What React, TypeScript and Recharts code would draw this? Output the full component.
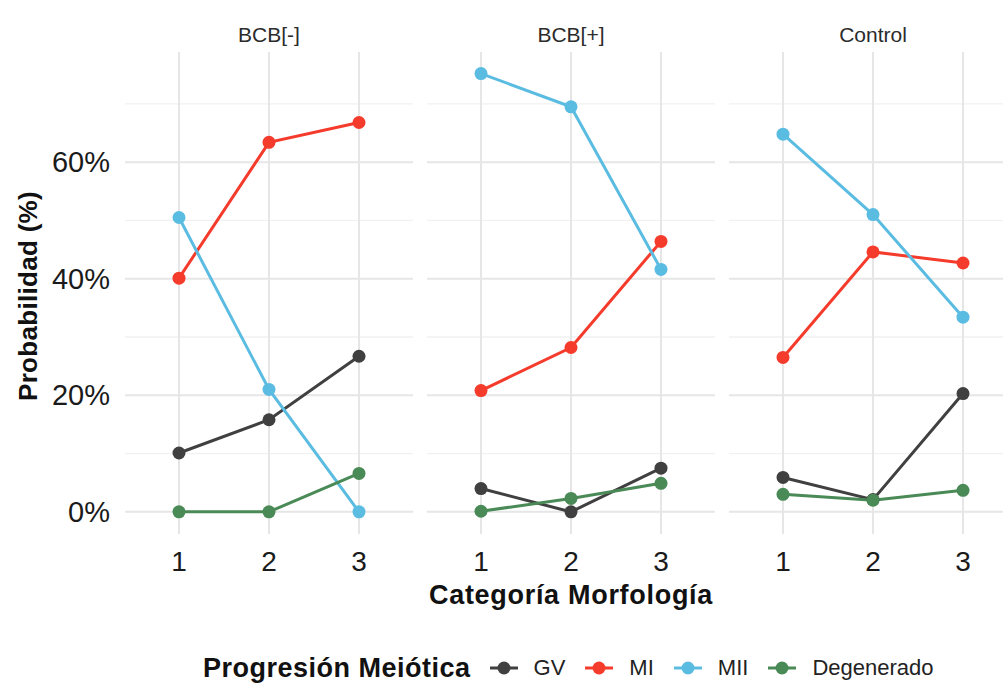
import { LineChart, Line, XAxis, YAxis, ReferenceLine } from 'recharts'

// Facets and x categories
const PANELS = ['BCB[-]', 'BCB[+]', 'Control']
const CATEGORIES = [1, 2, 3]

// Probabilities per panel (BCB[-], BCB[+], Control), one entry per category
const GV = [
  [0.101, 0.158, 0.267],
  [0.04, 0.0, 0.075],
  [0.059, 0.021, 0.203],
]
const MI = [
  [0.401, 0.634, 0.668],
  [0.208, 0.282, 0.464],
  [0.265, 0.446, 0.427],
]
const MII = [
  [0.505, 0.21, 0.0],
  [0.752, 0.695, 0.416],
  [0.648, 0.51, 0.334],
]
const DEGENERADO = [
  [0.0, 0.0, 0.066],
  [0.001, 0.023, 0.049],
  [0.03, 0.02, 0.037],
]

const Y_TICKS = [0, 0.2, 0.4, 0.6]
const Y_MINOR = [0.1, 0.3, 0.5, 0.7]

const SERIES = [
  { key: 'GV', label: 'GV', color: '#404040', values: GV },
  { key: 'MI', label: 'MI', color: '#F53B2B', values: MI },
  { key: 'MII', label: 'MII', color: '#5BBCE2', values: MII },
  { key: 'Degenerado', label: 'Degenerado', color: '#4A8A57', values: DEGENERADO },
]

const FONT = '"Liberation Sans", Arial, Helvetica, sans-serif'
const PANEL_LEFT = [125, 427, 729]
const PANEL_W = 288
const PLOT_TOP = 52
const PLOT_H = 482
const AXIS_H = 46
const CHART_H = PLOT_TOP + PLOT_H + AXIS_H

function panelData(p: number) {
  return CATEGORIES.map((c, i) => {
    const row: Record<string, number> = { cat: c }
    SERIES.forEach((s) => {
      row[s.key] = s.values[p][i]
    })
    return row
  })
}

const YTick = (props: any) => (
  <text
    x={110}
    y={props.y}
    textAnchor="end"
    dominantBaseline="central"
    fontSize={29}
    fill="#1a1a1a"
    fontFamily={FONT}
  >
    {Math.round(props.payload.value * 100)}%
  </text>
)

const XTick = (props: any) => (
  <text
    x={props.x}
    y={561}
    textAnchor="middle"
    dominantBaseline="central"
    fontSize={28}
    fill="#1a1a1a"
    fontFamily={FONT}
  >
    {props.payload.value}
  </text>
)

function Panel({ p }: { p: number }) {
  const first = p === 0
  const left = first ? 0 : PANEL_LEFT[p]
  const width = first ? PANEL_LEFT[0] + PANEL_W : PANEL_W
  return (
    <div style={{ position: 'absolute', left, top: 0 }}>
      <LineChart
        width={width}
        height={CHART_H}
        data={panelData(p)}
        margin={{ top: PLOT_TOP, right: 0, bottom: 0, left: 0 }}
      >
        {Y_MINOR.map((v) => (
          <ReferenceLine key={'m' + v} y={v} stroke="#f1f1f1" strokeWidth={1.3} />
        ))}
        {Y_TICKS.map((v) => (
          <ReferenceLine key={'y' + v} y={v} stroke="#e6e6e6" strokeWidth={2} />
        ))}
        {CATEGORIES.map((c) => (
          <ReferenceLine key={'x' + c} x={c} stroke="#e6e6e6" strokeWidth={2} />
        ))}
        <XAxis
          dataKey="cat"
          type="number"
          domain={[0.4, 3.6]}
          ticks={CATEGORIES}
          axisLine={false}
          tickLine={false}
          height={AXIS_H}
          tick={XTick}
          interval={0}
        />
        <YAxis
          type="number"
          domain={[-0.038, 0.789]}
          ticks={Y_TICKS}
          axisLine={false}
          tickLine={false}
          width={PANEL_LEFT[0]}
          hide={!first}
          tick={YTick}
          allowDataOverflow
        />
        {SERIES.map((s) => (
          <Line
            key={s.key}
            type="linear"
            dataKey={s.key}
            stroke={s.color}
            strokeWidth={3}
            dot={{ r: 6.5, fill: s.color, stroke: s.color, strokeWidth: 0 }}
            activeDot={false}
            isAnimationActive={false}
          />
        ))}
      </LineChart>
    </div>
  )
}

export default function App() {
  return (
    <div
      style={{
        position: 'absolute',
        left: 0,
        top: 0,
        width: 1003,
        height: 683,
        overflow: 'hidden',
        background: '#fff',
        fontFamily: FONT,
      }}
    >
      <svg width={1003} height={683} style={{ position: 'absolute', left: 0, top: 0 }}>
        {PANELS.map((name, p) => (
          <text
            key={name}
            x={PANEL_LEFT[p] + PANEL_W / 2}
            y={34}
            textAnchor="middle"
            dominantBaseline="central"
            fontSize={21}
            fill="#2b2b2b"
            fontFamily={FONT}
          >
            {name}
          </text>
        ))}
        <text
          x={571}
          y={595}
          textAnchor="middle"
          dominantBaseline="central"
          fontSize={27}
          letterSpacing={0.7}
          fontWeight="bold"
          fill="#111"
          fontFamily={FONT}
        >
          Categoría Morfología
        </text>
        <text
          transform="translate(28 296) rotate(-90)"
          textAnchor="middle"
          dominantBaseline="central"
          fontSize={26}
          letterSpacing={0.3}
          fontWeight="bold"
          fill="#111"
          fontFamily={FONT}
        >
          Probabilidad (%)
        </text>
      </svg>
      {PANELS.map((name, p) => (
        <Panel key={name} p={p} />
      ))}
      <div
        style={{
          position: 'absolute',
          left: 203,
          top: 650,
          height: 36,
          display: 'flex',
          alignItems: 'center',
          whiteSpace: 'nowrap',
        }}
      >
        <span
          style={{
            fontSize: 27,
            fontWeight: 'bold',
            color: '#111',
            letterSpacing: 0.5,
            marginRight: 18,
          }}
        >
          Progresión Meiótica
        </span>
        {SERIES.map((s) => (
          <span key={s.key} style={{ display: 'flex', alignItems: 'center', marginRight: 19 }}>
            <svg width={30} height={20}>
              <line x1={1} y1={10} x2={29} y2={10} stroke={s.color} strokeWidth={3} />
              <circle cx={15} cy={10} r={6.5} fill={s.color} />
            </svg>
            <span style={{ fontSize: 22, color: '#222', marginLeft: 15 }}>{s.label}</span>
          </span>
        ))}
      </div>
    </div>
  )
}
